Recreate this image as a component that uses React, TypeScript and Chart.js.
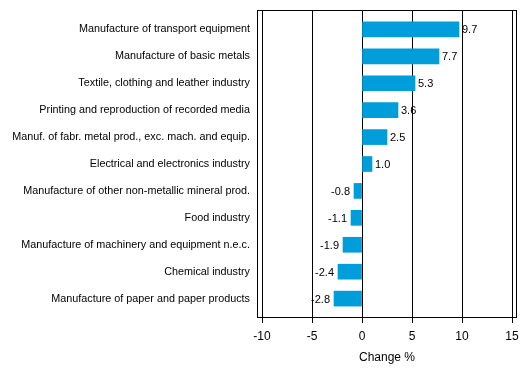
import React, { useEffect, useRef } from "react";
import { Chart, registerables } from "chart.js";

Chart.register(...registerables);

const categories = [
  "Manufacture of transport equipment",
  "Manufacture of basic metals",
  "Textile, clothing and leather industry",
  "Printing and reproduction of recorded media",
  "Manuf. of fabr. metal prod., exc. mach. and equip.",
  "Electrical and electronics industry",
  "Manufacture of other non-metallic mineral prod.",
  "Food industry",
  "Manufacture of machinery and equipment n.e.c.",
  "Chemical industry",
  "Manufacture of paper and paper products",
];
const values = [9.7, 7.7, 5.3, 3.6, 2.5, 1.0, -0.8, -1.1, -1.9, -2.4, -2.8];
const xTicks = [-10, -5, 0, 5, 10, 15];
const axisTitle = "Change %";

const FONT = "Arial, 'Liberation Sans', sans-serif";

const framePlugin = {
  id: "frame",
  afterDraw(chart: any) {
    const { ctx, chartArea } = chart;
    ctx.save();
    ctx.strokeStyle = "#000";
    ctx.lineWidth = 1;
    ctx.strokeRect(
      Math.round(chartArea.left) + 0.5,
      Math.round(chartArea.top) + 0.5,
      Math.round(chartArea.right - chartArea.left) - 1,
      Math.round(chartArea.bottom - chartArea.top) - 1
    );
    ctx.restore();
  },
};

const labelPlugin = {
  id: "valueLabels",
  afterDatasetsDraw(chart: any) {
    const { ctx } = chart;
    const meta = chart.getDatasetMeta(0);
    ctx.save();
    ctx.font = `11px ${FONT}`;
    ctx.fillStyle = "#000";
    ctx.textBaseline = "middle";
    meta.data.forEach((bar: any, i: number) => {
      const v = values[i];
      const txt = v.toFixed(1);
      if (v >= 0) {
        ctx.textAlign = "left";
        ctx.fillText(txt, bar.x + 3, bar.y + 1);
      } else {
        ctx.textAlign = "right";
        ctx.fillText(txt, bar.x - 4, bar.y + 1);
      }
    });
    ctx.restore();
  },
};

export default function App() {
  const ref = useRef<HTMLCanvasElement | null>(null);
  useEffect(() => {
    document.body.style.margin = "0";
    if (!ref.current) return;
    const chart = new Chart(ref.current, {
      type: "bar",
      data: {
        datasets: [
          {
            data: categories.map((c, i) => ({ x: values[i], y: i })) as any,
            backgroundColor: "#009ddb",
            borderWidth: 0,
            barThickness: 15,
          },
        ],
      },
      options: {
        animation: false,
        responsive: false,
        indexAxis: "y",
        layout: { padding: { top: 10, right: 12, left: 0, bottom: 0 } },
        plugins: {
          legend: { display: false },
          tooltip: { enabled: false },
        },
        scales: {
          x: {
            type: "linear",
            min: -10.5,
            max: 15.5,
            afterBuildTicks: (scale: any) => {
              scale.ticks = xTicks.map((v) => ({ value: v }));
            },
            afterFit: (scale: any) => {
              scale.height = 59;
              scale.paddingLeft = 0;
              scale.paddingRight = 0;
            },
            grid: {
              color: "#000",
              lineWidth: 1,
              drawTicks: true,
              tickLength: 5,
              tickColor: "#000",
            },
            border: { display: false },
            ticks: {
              color: "#000",
              font: { family: FONT, size: 12 },
              padding: 6,
            },
            title: {
              display: true,
              text: axisTitle,
              color: "#000",
              font: { family: FONT, size: 12 },
              padding: { top: 0, bottom: 12 },
            },
          },
          y: {
            type: "linear",
            reverse: true,
            offset: false,
            min: -0.72,
            max: 10.72,
            afterBuildTicks: (scale: any) => {
              scale.ticks = categories.map((c, i) => ({ value: i }));
            },
            afterFit: (scale: any) => {
              scale.width = 257;
              scale.paddingTop = 0;
              scale.paddingBottom = 0;
            },
            grid: { display: false, drawTicks: false, tickLength: 0 },
            border: { display: false },
            ticks: {
              color: "#000",
              font: { family: FONT, size: 10.8 },
              padding: 7,
              autoSkip: false,
              callback: (v: any) => categories[v as number] ?? "",
            },
          },
        },
      },
      plugins: [framePlugin, labelPlugin],
    });
    return () => chart.destroy();
  }, []);
  return (
    <div style={{ width: 529, height: 377 }}>
      <canvas ref={ref} width={529} height={377} />
    </div>
  );
}
